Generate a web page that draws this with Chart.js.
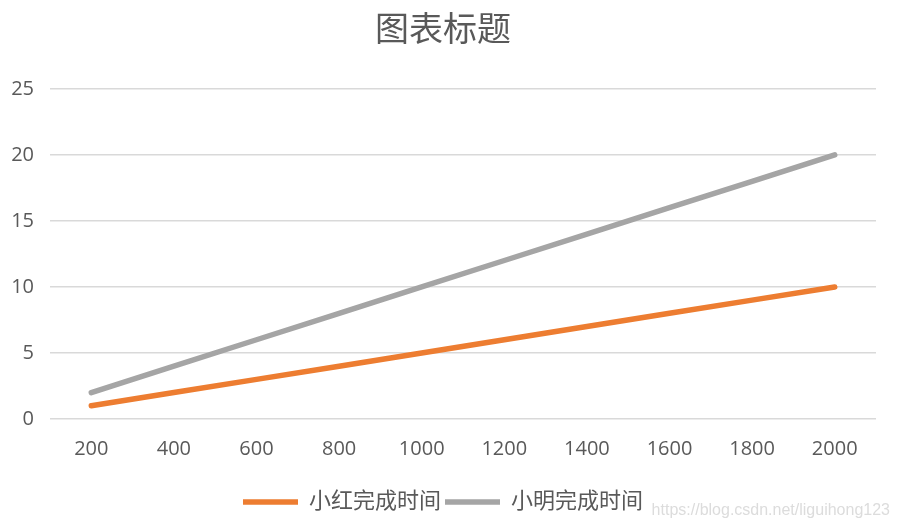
<!DOCTYPE html>
<html>
<head>
<meta charset="utf-8">
<script src="https://cdn.jsdelivr.net/npm/chart.js@4"></script>
<style>
  html, body { margin: 0; padding: 0; background: #fff; }
  #wrap { width: 900px; height: 530px; }
</style>
</head>
<body>
<div id="wrap"><canvas id="lineChart" width="900" height="530"></canvas></div>
<script>
const labels = ["200", "400", "600", "800", "1000", "1200", "1400", "1600", "1800", "2000"];
const xiaohong = [1, 2, 3, 4, 5, 6, 7, 8, 9, 10];
const xiaoming = [2, 4, 6, 8, 10, 12, 14, 16, 18, 20];
const yTicks = [0, 5, 10, 15, 20, 25];

const textColor = "#595959";
Chart.defaults.font.family = "'Open Sans', 'Noto Sans CJK SC', sans-serif";
Chart.defaults.color = textColor;

// csdn watermark in the bottom right corner
const watermark = {
  id: "watermark",
  afterDraw(chart) {
    const ctx = chart.ctx;
    ctx.save();
    ctx.font = "16px 'Liberation Sans', sans-serif";
    ctx.fillStyle = "#dcdcdc";
    ctx.textAlign = "right";
    ctx.textBaseline = "middle";
    ctx.fillText("https://blog.csdn.net/liguihong123", 890, 511);
    ctx.restore();
  }
};

const lineChart = new Chart(document.getElementById("lineChart").getContext("2d"), {
  type: "line",
  data: {
    labels: labels,
    datasets: [
      {
        label: "小红完成时间",
        data: xiaohong,
        borderColor: "#ED7D31",
        backgroundColor: "#ED7D31",
        borderWidth: 5.5,
        borderCapStyle: "round",
        pointRadius: 0,
        tension: 0,
      },
      {
        label: "小明完成时间",
        data: xiaoming,
        borderColor: "#A5A5A5",
        backgroundColor: "#A5A5A5",
        borderWidth: 5.5,
        borderCapStyle: "round",
        pointRadius: 0,
        tension: 0,
      },
    ],
  },
  options: {
    responsive: false,
    animation: false,
    layout: {
      padding: { left: 10, right: 24, top: 0, bottom: 7 },
    },
    scales: {
      x: {
        offset: true,
        grid: { display: false },
        border: { display: false },
        ticks: {
          color: textColor,
          font: { size: 20 },
          padding: 10,
          maxRotation: 0,
        },
        afterFit: (axis) => {
          axis.height += 16;
        },
      },
      y: {
        min: 0,
        max: 25,
        afterBuildTicks: (axis) => {
          axis.ticks = yTicks.map((v) => ({ value: v }));
        },
        afterFit: (axis) => {
          axis.width = 40;
        },
        grid: {
          color: "#d9d9d9",
          lineWidth: 1.5,
          drawTicks: false,
        },
        border: { display: false },
        ticks: {
          color: textColor,
          font: { size: 20 },
          padding: 16,
        },
      },
    },
    plugins: {
      title: {
        display: true,
        text: "图表标题",
        color: textColor,
        font: { size: 34, weight: "normal" },
        padding: { top: 11, bottom: 37 },
      },
      legend: {
        position: "bottom",
        labels: {
          usePointStyle: true,
          pointStyle: "line",
          pointStyleWidth: 55,
          boxHeight: 22,
          color: textColor,
          font: { size: 22 },
          padding: 4,
        },
      },
      tooltip: { enabled: false },
    },
  },
  plugins: [watermark],
});
</script>
</body>
</html>
